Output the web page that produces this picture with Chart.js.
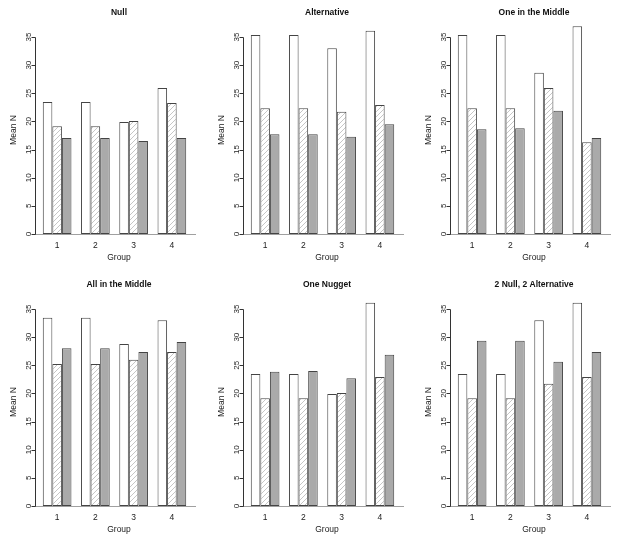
<!DOCTYPE html>
<html>
<head>
<meta charset="utf-8">
<title>Mean N by Group</title>
<script src="https://cdn.jsdelivr.net/npm/chart.js@4/dist/chart.umd.min.js"></script>
<style>
  body { margin: 0; background: #fff; width: 620px; height: 544px; overflow: hidden; position: relative; }
  canvas { position: absolute; }
</style>
</head>
<body>
<canvas id="c0" width="207" height="272" style="left:0;top:0"></canvas>
<canvas id="c1" width="207" height="272" style="left:208px;top:0"></canvas>
<canvas id="c2" width="207" height="272" style="left:415px;top:0"></canvas>
<canvas id="c3" width="207" height="272" style="left:0;top:272px"></canvas>
<canvas id="c4" width="207" height="272" style="left:208px;top:272px"></canvas>
<canvas id="c5" width="207" height="272" style="left:415px;top:272px"></canvas>
<script>
// Data
const groups = ['1', '2', '3', '4'];
const yTicks = [0, 5, 10, 15, 20, 25, 30, 35];
const titles = ['Null', 'Alternative', 'One in the Middle', 'All in the Middle', 'One Nugget', '2 Null, 2 Alternative'];

const nullWhite   = [23.45, 23.45, 19.9, 25.94];
const nullHatched = [19.13, 19.13, 20.08, 23.27];
const nullGray    = [17.06, 17.06, 16.52, 17.06];

const altWhite   = [35.35, 35.35, 32.99, 36.12];
const altHatched = [22.33, 22.33, 21.73, 22.92];
const altGray    = [17.71, 17.71, 17.29, 19.48];

const oneMidWhite   = [35.35, 35.35, 28.66, 36.9];
const oneMidHatched = [22.33, 22.33, 25.94, 16.29];
const oneMidGray    = [18.6, 18.77, 21.91, 17.06];

const allMidWhite   = [33.46, 33.46, 28.78, 32.99];
const allMidHatched = [25.23, 25.23, 26.0, 27.36];
const allMidGray    = [28.01, 28.01, 27.36, 29.14];

const nuggetWhite   = [23.45, 23.45, 19.9, 36.12];
const nuggetHatched = [19.13, 19.13, 20.08, 22.92];
const nuggetGray    = [23.87, 23.98, 22.68, 26.89];

const mixWhite   = [23.45, 23.45, 32.99, 36.12];
const mixHatched = [19.13, 19.13, 21.73, 22.92];
const mixGray    = [29.37, 29.37, 25.64, 27.36];

const panels = [
  [nullWhite, nullHatched, nullGray],
  [altWhite, altHatched, altGray],
  [oneMidWhite, oneMidHatched, oneMidGray],
  [allMidWhite, allMidHatched, allMidGray],
  [nuggetWhite, nuggetHatched, nuggetGray],
  [mixWhite, mixHatched, mixGray]
];

const FONT = '"Liberation Sans", Arial, Helvetica, sans-serif';

// diagonal hatch fill
function makeHatch() {
  const s = 5;
  const c = document.createElement('canvas');
  c.width = s; c.height = s;
  const g = c.getContext('2d');
  g.fillStyle = '#fff';
  g.fillRect(0, 0, s, s);
  g.strokeStyle = '#c6c6c6';
  g.lineWidth = 1;
  g.beginPath();
  g.moveTo(0, s); g.lineTo(s, 0);
  g.moveTo(-1, 1); g.lineTo(1, -1);
  g.moveTo(s - 1, s + 1); g.lineTo(s + 1, s - 1);
  g.stroke();
  return g.createPattern(c, 'repeat');
}

// R-style axes, labels and titles drawn from the chart's scales
const rAxes = {
  id: 'rAxes',
  beforeDatasetsDraw(chart) {
    const { ctx, chartArea, scales: { y } } = chart;
    const y0 = Math.round(y.getPixelForValue(0)) + 0.5;
    ctx.save();
    ctx.strokeStyle = '#a0a0a0';
    ctx.lineWidth = 1;
    ctx.beginPath();
    ctx.moveTo(chartArea.left - 3, y0);
    ctx.lineTo(chartArea.right + 5, y0);
    ctx.stroke();
    ctx.restore();
  },
  afterDraw(chart, args, opts) {
    const { ctx, chartArea, scales: { x, y } } = chart;
    const ax = chartArea.left - 2.5;
    ctx.save();
    ctx.strokeStyle = '#333';
    ctx.fillStyle = '#222';
    ctx.lineWidth = 1;

    // y axis line + ticks
    ctx.beginPath();
    ctx.moveTo(ax, Math.round(y.getPixelForValue(0)) + 0.5);
    ctx.lineTo(ax, Math.round(y.getPixelForValue(35)) + 0.5);
    yTicks.forEach(v => {
      const py = Math.round(y.getPixelForValue(v)) + 0.5;
      ctx.moveTo(ax, py);
      ctx.lineTo(ax - 4, py);
    });
    ctx.stroke();

    // rotated y tick labels
    ctx.font = '8px ' + FONT;
    ctx.textAlign = 'center';
    ctx.textBaseline = 'alphabetic';
    yTicks.forEach(v => {
      const py = y.getPixelForValue(v);
      ctx.save();
      ctx.translate(ax - 5, py);
      ctx.rotate(-Math.PI / 2);
      ctx.fillText(String(v), 0, 0);
      ctx.restore();
    });

    // x labels
    ctx.font = '8.5px ' + FONT;
    ctx.textBaseline = 'middle';
    groups.forEach((g, i) => {
      ctx.fillText(g, x.getPixelForValue(i), 246);
    });

    // axis titles
    ctx.fillText('Group', 119, 258);
    ctx.save();
    ctx.translate(16, 130);
    ctx.rotate(-Math.PI / 2);
    ctx.textBaseline = 'alphabetic';
    ctx.fillText('Mean N', 0, 0);
    ctx.restore();

    // main title
    ctx.font = 'bold 8.5px ' + FONT;
    ctx.fillStyle = '#111';
    ctx.fillText(opts.title, 119, 12.5);
    ctx.restore();
  }
};

const hatch = makeHatch();

panels.forEach((series, i) => {
  new Chart(document.getElementById('c' + i), {
    type: 'bar',
    data: {
      labels: groups,
      datasets: [
        { data: series[0], backgroundColor: '#fff' },
        { data: series[1], backgroundColor: hatch },
        { data: series[2], backgroundColor: '#aaaaaa' }
      ].map(d => Object.assign(d, {
        borderColor: '#444',
        borderWidth: 1,
        borderSkipped: false,
        categoryPercentage: 0.75,
        barPercentage: 1
      }))
    },
    options: {
      responsive: false,
      animation: false,
      devicePixelRatio: 1,
      layout: { padding: { left: 38, right: 16, top: 17, bottom: 30 } },
      scales: {
        x: { display: false },
        y: { display: false, min: -1.42, max: 38.55 }
      },
      plugins: {
        legend: { display: false },
        tooltip: { enabled: false },
        rAxes: { title: titles[i] }
      }
    },
    plugins: [rAxes]
  });
});
</script>
</body>
</html>
